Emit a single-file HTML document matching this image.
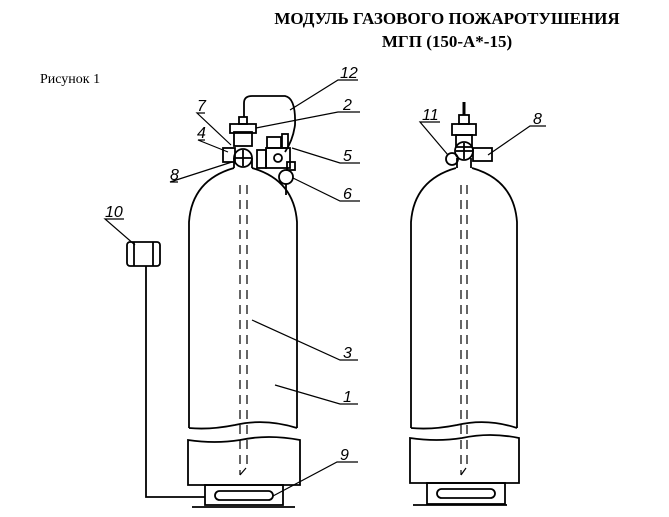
<!DOCTYPE html>
<html><head><meta charset="utf-8"><style>
body{margin:0;background:#fff;}
svg{display:block}
text{font-family:"Liberation Serif",serif;fill:#000}
.l{font-family:"Liberation Sans",sans-serif;font-style:italic;font-size:16px}
</style></head><body>
<svg width="669" height="517" viewBox="0 0 669 517" xmlns="http://www.w3.org/2000/svg">
<text x="447" y="24" font-size="17" font-weight="bold" text-anchor="middle">МОДУЛЬ ГАЗОВОГО ПОЖАРОТУШЕНИЯ</text>
<text x="447" y="47" font-size="17" font-weight="bold" text-anchor="middle">МГП (150-А*-15)</text>
<text x="40" y="83" font-size="14">Рисунок 1</text>
<g fill="none" stroke="#000" stroke-width="1.8">
<path d="M189 428 V222 Q192 180 234 168 M252 168 Q294 180 297 222 V428"/>
<path d="M189 428 Q210 430 235 425 Q265 418 297 428"/>
<path d="M188 440 Q215 444 240 440 Q268 434 300 440 V485 H188 Z"/>
<rect x="205" y="485" width="78" height="20"/>
<line x1="192" y1="507" x2="295" y2="507"/>
<rect x="215" y="491" width="58" height="9" rx="4.5"/>
<path d="M240 185 V475 M247 185 V470" stroke-dasharray="9 6" stroke-width="1.2"/>
<path d="M240 475 L246 468" stroke-width="1.2"/>
<path d="M234 168 V158 M252 168 V158"/>
<rect x="234" y="132" width="18" height="14"/>
<rect x="230" y="124" width="26" height="9"/>
<rect x="239" y="117" width="8" height="7"/>
<path d="M244 117 V103 Q244 96 252 96 H285 Q296 98 295 125 Q293 140 285 152"/>
<circle cx="243" cy="158" r="9"/>
<line x1="243" y1="150" x2="243" y2="166"/><line x1="235" y1="158" x2="251" y2="158"/>
<rect x="223" y="148" width="12" height="14"/>
<rect x="257" y="150" width="9" height="18"/>
<rect x="266" y="148" width="24" height="20"/>
<rect x="267" y="137" width="14" height="11"/>
<rect x="282" y="134" width="6" height="14"/>
<circle cx="278" cy="158" r="4"/>
<circle cx="286" cy="177" r="7"/>
<line x1="286" y1="184" x2="286" y2="195"/>
<rect x="287" y="162" width="8" height="8"/>
<rect x="127" y="242" width="33" height="24" rx="3"/>
<line x1="134" y1="242" x2="134" y2="266"/><line x1="153" y1="242" x2="153" y2="266"/>
<path d="M146 266 V497 H205"/>
<path d="M411 428 V222 Q414 180 456 168 M472 168 Q514 180 517 222 V428"/>
<path d="M411 428 Q432 430 457 425 Q487 418 517 428"/>
<path d="M410 438 Q437 442 462 438 Q490 432 519 438 V483 H410 Z"/>
<rect x="427" y="483" width="78" height="21"/>
<line x1="413" y1="505" x2="507" y2="505"/>
<rect x="437" y="489" width="58" height="9" rx="4.5"/>
<path d="M461 185 V475 M467 185 V470" stroke-dasharray="9 6" stroke-width="1.2"/>
<path d="M461 475 L466 468" stroke-width="1.2"/>
<path d="M457 168 V158 M471 168 V158"/>
<rect x="456" y="135" width="16" height="12"/>
<rect x="452" y="124" width="24" height="11"/>
<rect x="459" y="115" width="10" height="9"/>
<path d="M464 115 V102" stroke-width="3"/>
<circle cx="464" cy="151" r="9"/>
<line x1="464" y1="143" x2="464" y2="159"/><line x1="456" y1="151" x2="472" y2="151"/>
<rect x="473" y="148" width="19" height="13"/>
<circle cx="452" cy="159" r="6"/>
<g stroke-width="1.2">
<path d="M358 80 H338 L290 110"/>
<path d="M360 112 H338 L256 128"/>
<path d="M205 113 H197 L231 145"/>
<path d="M205 140 H198 L228 152"/>
<path d="M360 163 H340 L292 148"/>
<path d="M178 182 H170 L232 162"/>
<path d="M360 201 H340 L293 178"/>
<path d="M124 219 H105 L135 245"/>
<path d="M358 360 H340 L252 320"/>
<path d="M358 404 H340 L275 385"/>
<path d="M358 462 H337 L273 496"/>
<path d="M440 122 H420 L448 155"/>
<path d="M546 126 H530 L488 155"/>
</g>
</g>
<text class="l" x="340" y="78">12</text>
<text class="l" x="343" y="110">2</text>
<text class="l" x="197" y="111">7</text>
<text class="l" x="197" y="138">4</text>
<text class="l" x="343" y="161">5</text>
<text class="l" x="170" y="180">8</text>
<text class="l" x="343" y="199">6</text>
<text class="l" x="105" y="217">10</text>
<text class="l" x="343" y="358">3</text>
<text class="l" x="343" y="402">1</text>
<text class="l" x="340" y="460">9</text>
<text class="l" x="422" y="120">11</text>
<text class="l" x="533" y="124">8</text>
</svg>
</body></html>
